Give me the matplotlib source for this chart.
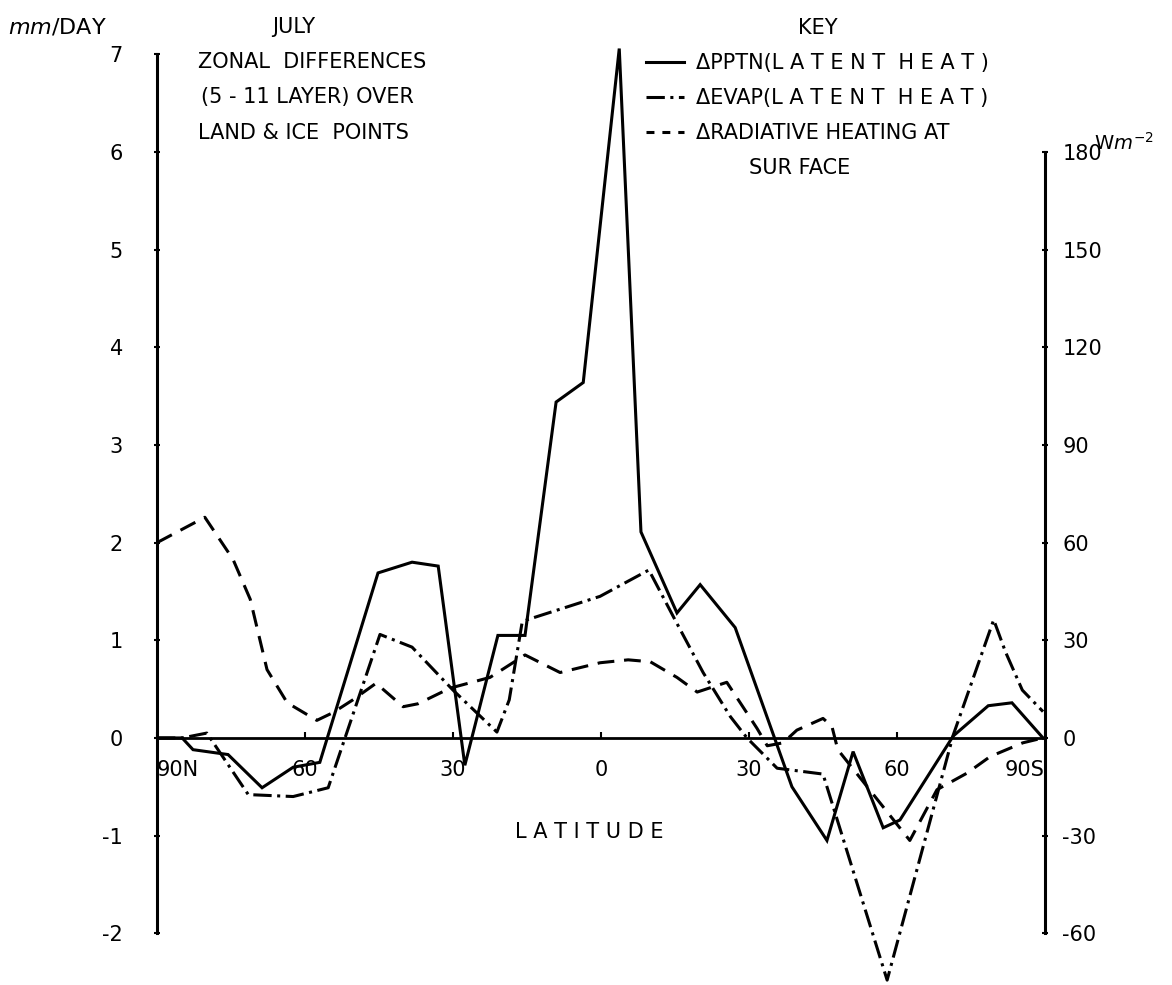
import matplotlib
matplotlib.use('Agg')
import matplotlib.pyplot as plt
from matplotlib.lines import Line2D

plt.rcParams['font.family'] = 'DejaVu Sans'
plt.rcParams['axes.unicode_minus'] = False

# latitude (N positive), values in mm/day
pptn_lat = [90, 84.9, 82.7, 75.6, 68.7, 62.4, 57.0, 45.2, 38.3, 33.0, 27.6, 20.9, 15.4,
            9.1, 3.6, -3.7, -8.1, -15.4, -20.1, -27.2, -38.7, -45.8, -51.1, -57.2,
            -60.6, -71.4, -78.5, -83.3, -89.6]
pptn_val = [0, 0, -0.12, -0.17, -0.51, -0.30, -0.25, 1.69, 1.80, 1.76, -0.28, 1.05, 1.05,
            3.44, 3.64, 7.06, 2.11, 1.28, 1.57, 1.13, -0.50, -1.05, -0.14, -0.92,
            -0.84, 0.02, 0.33, 0.36, 0]

evap_lat = [90, 84.9, 79.9, 71.5, 62.4, 55.3, 44.8, 38.3, 30.0, 21.1, 18.6, 16.0, 15.0,
            0.2, -9.7, -15.0, -20.7, -26.2, -29.6, -35.7, -45.0, -58.0, -71.4,
            -79.6, -82.0, -85.4, -89.6]
evap_val = [0, 0, 0.05, -0.58, -0.60, -0.51, 1.06, 0.93, 0.49, 0.06, 0.39, 1.18, 1.21,
            1.45, 1.72, 1.21, 0.67, 0.22, 0.0, -0.31, -0.37, -2.48, 0.03,
            1.21, 0.88, 0.49, 0.27]

rad_lat = [90, 80.3, 74.6, 71.1, 67.7, 63.6, 57.6, 54.3, 50.3, 45.6, 40.1, 37.1, 30.6,
           22.5, 15.4, 8.3, 0.2, -5.5, -10.0, -15.4, -19.5, -25.5, -31.6, -33.7,
           -36.9, -39.7, -45.0, -46.8, -48.0, -62.6, -68.1, -74.2, -78.9, -85.5, -89.6]
rad_val = [2.0, 2.26, 1.83, 1.42, 0.70, 0.36, 0.18, 0.26, 0.39, 0.56, 0.32, 0.35, 0.51,
           0.62, 0.85, 0.67, 0.77, 0.80, 0.78, 0.62, 0.47, 0.57, 0.10, -0.08,
           -0.05, 0.08, 0.20, 0.12, -0.12, -1.05, -0.53, -0.36, -0.19, -0.05, 0]

lat_ticks = [90, 60, 30, 0, -30, -60, -90]
lat_labels = ['90N', '60', '30', '0', '30', '60', '90S']
left_ticks = [-2, -1, 0, 1, 2, 3, 4, 5, 6, 7]
right_ticks = [-60, -30, 0, 30, 60, 90, 120, 150, 180]

W, H = 1172, 985
fig = plt.figure(figsize=(W / 100, H / 100), dpi=100)
ax = fig.add_axes([157 / W, 0, (1045 - 157) / W, 955 / H])
ax.set_xlim(90, -90)
ax.set_ylim(-2.53, 7.25)

lw = 2.2
evap_dash = (6, 1.8, 1, 1.8)
ax.plot(pptn_lat, pptn_val, color='black', lw=lw, solid_joinstyle='miter')
ax.plot(evap_lat, evap_val, color='black', lw=lw, dashes=evap_dash)
ax.plot(rad_lat, rad_val, color='black', lw=lw, dashes=(5.5, 3.2))

# zero line acts as the latitude axis
ax.spines['top'].set_visible(False)
ax.spines['right'].set_visible(False)
ax.spines['bottom'].set_position(('data', 0))
ax.spines['bottom'].set_linewidth(2)
ax.spines['left'].set_bounds(-2, 7)
ax.spines['left'].set_linewidth(2.2)
ax.set_xticks(lat_ticks)
ax.set_xticklabels(lat_labels)
ax.tick_params(axis='x', direction='in', length=4, width=1.5, pad=16, labelsize=15)
xl = ax.get_xticklabels()
xl[0].set_ha('left')
xl[-1].set_ha('right')
ax.set_yticks(left_ticks)
ax.tick_params(axis='y', direction='inout', length=5, width=1.5, pad=22, labelsize=15)

ax2 = ax.twinx()
ax2.set_ylim(-2.53 * 30, 7.25 * 30)
for s in ['top', 'left', 'bottom']:
    ax2.spines[s].set_visible(False)
ax2.spines['right'].set_bounds(-60, 180)
ax2.spines['right'].set_linewidth(2.2)
ax2.set_yticks(right_ticks)
ax2.tick_params(axis='y', direction='inout', length=5, width=1.5, pad=10, labelsize=15)


def ftext(x, y, s, size=15, **kw):
    fig.text(x / W, 1 - y / H, s, va='center', fontsize=size, **kw)


ftext(8, 27, r'$\it{mm}$/DAY', size=16)
ftext(294, 27, 'JULY', ha='center')
ftext(198, 62, 'ZONAL  DIFFERENCES')
ftext(201, 97, '(5 - 11 LAYER) OVER')
ftext(198, 133, 'LAND & ICE  POINTS')
ftext(1124, 143, r'W$m^{-2}$', size=14, ha='center')
ftext(589, 832, 'L A T I T U D E', ha='center')

handles = [Line2D([], [], color='black', lw=lw),
           Line2D([], [], color='black', lw=lw, dashes=evap_dash),
           Line2D([], [], color='black', lw=lw, dashes=(2.6, 2.6)),
           Line2D([], [], color='none')]
labels = ['ΔPPTN(L A T E N T  H E A T )', 'ΔEVAP(L A T E N T  H E A T )',
          'ΔRADIATIVE HEATING AT', '        SUR FACE']
leg = ax.legend(handles, labels, title='KEY', loc='upper left',
                bbox_to_anchor=(646 / W, 1 - 18 / H), bbox_transform=fig.transFigure,
                frameon=False, fontsize=15, title_fontsize=15, handlelength=1.8,
                labelspacing=0.72, borderpad=0, handletextpad=0.6, borderaxespad=0)

fig.savefig('out.png', dpi=100, facecolor='white')
